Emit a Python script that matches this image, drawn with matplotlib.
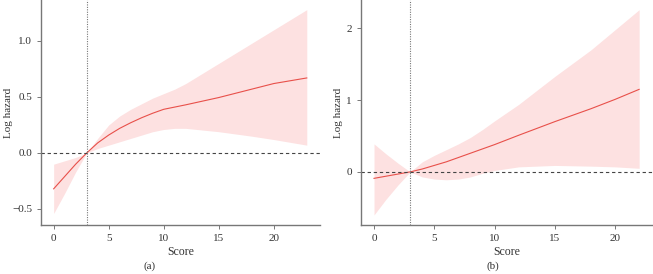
import matplotlib
matplotlib.use("Agg")
import matplotlib.pyplot as plt

plt.rcParams['font.family'] = ['Liberation Serif', 'DejaVu Serif']

# Panel (a)
xa = [0, 1, 2, 3, 4, 5, 6, 7, 8, 9, 10, 11, 12, 15, 18, 20, 23]
line_a = [-0.32, -0.21, -0.10, 0.0, 0.09, 0.16, 0.22, 0.27, 0.315, 0.355, 0.39, 0.41, 0.43, 0.495, 0.57, 0.62, 0.67]
upper_a = [-0.10, -0.07, -0.04, 0.0, 0.13, 0.25, 0.33, 0.39, 0.44, 0.49, 0.53, 0.57, 0.62, 0.80, 0.98, 1.10, 1.28]
lower_a = [-0.54, -0.36, -0.17, 0.0, 0.04, 0.07, 0.10, 0.13, 0.16, 0.19, 0.21, 0.22, 0.22, 0.19, 0.15, 0.12, 0.07]

# Panel (b)
xb = [0, 1, 2, 3, 4, 5, 6, 7, 8, 9, 10, 12, 15, 18, 20, 22]
line_b = [-0.09, -0.06, -0.03, 0.0, 0.04, 0.09, 0.14, 0.20, 0.26, 0.32, 0.38, 0.51, 0.70, 0.88, 1.01, 1.15]
upper_b = [0.39, 0.25, 0.12, 0.0, 0.14, 0.23, 0.31, 0.39, 0.48, 0.59, 0.71, 0.94, 1.33, 1.70, 1.98, 2.26]
lower_b = [-0.60, -0.38, -0.18, 0.0, -0.07, -0.10, -0.11, -0.10, -0.07, -0.02, 0.02, 0.07, 0.09, 0.08, 0.07, 0.05]

xticks = [0, 5, 10, 15, 20]
yticks_a = [-0.5, 0.0, 0.5, 1.0]
ytick_labels_a = ["\u22120.5", "0.0", "0.5", "1.0"]
yticks_b = [0, 1, 2]
ytick_labels_b = ["0", "1", "2"]
ref_x = 3

fig = plt.figure(figsize=(6.53, 2.74), dpi=100)
ax1 = fig.add_axes([41/653, 49/274, 279/653, 225/274])
ax2 = fig.add_axes([361/653, 49/274, 292/653, 225/274])

line_color = '#E8504A'
fill_color = '#FDE1E1'
spine_color = '#777777'
text_color = '#333333'

def style(ax, x, y, lo, hi, xlim, ylim, yt, ytl, ylab_x):
    ax.fill_between(x, lo, hi, color=fill_color, lw=0)
    ax.plot(x, y, color=line_color, lw=0.8)
    ax.axhline(0, color='#444444', lw=0.8, ls=(0, (3, 2.5)))
    ax.axvline(ref_x, color='#777777', lw=0.8, ls=(0, (1, 1.2)))
    ax.set_xlim(*xlim)
    ax.set_ylim(*ylim)
    ax.set_xticks(xticks)
    ax.set_yticks(yt)
    ax.set_yticklabels(ytl)
    for s in ['top', 'right']:
        ax.spines[s].set_visible(False)
    for s in ['left', 'bottom']:
        ax.spines[s].set_color(spine_color)
        ax.spines[s].set_linewidth(1.0)
    ax.tick_params(colors=spine_color, labelcolor=text_color, labelsize=8, length=3, width=0.7)
    ax.set_xlabel('Score', fontsize=8.5, color=text_color, labelpad=2)
    ax.set_ylabel('Log hazard', fontsize=8, color=text_color)
    ax.yaxis.set_label_coords(ylab_x, 0.5)
    ax.patch.set_alpha(0)

style(ax1, xa, line_a, lower_a, upper_a, (-1.15, 24.2), (-0.643, 1.366), yticks_a, ytick_labels_a, -0.100)
style(ax2, xb, line_b, lower_b, upper_b, (-1.08, 23.15), (-0.74, 2.395), yticks_b, ytick_labels_b, -0.060)

fig.text(150/653, 1 - 266/274, '(a)', ha='center', va='center', fontsize=8, color=text_color)
fig.text(493/653, 1 - 266/274, '(b)', ha='center', va='center', fontsize=8, color=text_color)

fig.savefig('out.png', dpi=100)
